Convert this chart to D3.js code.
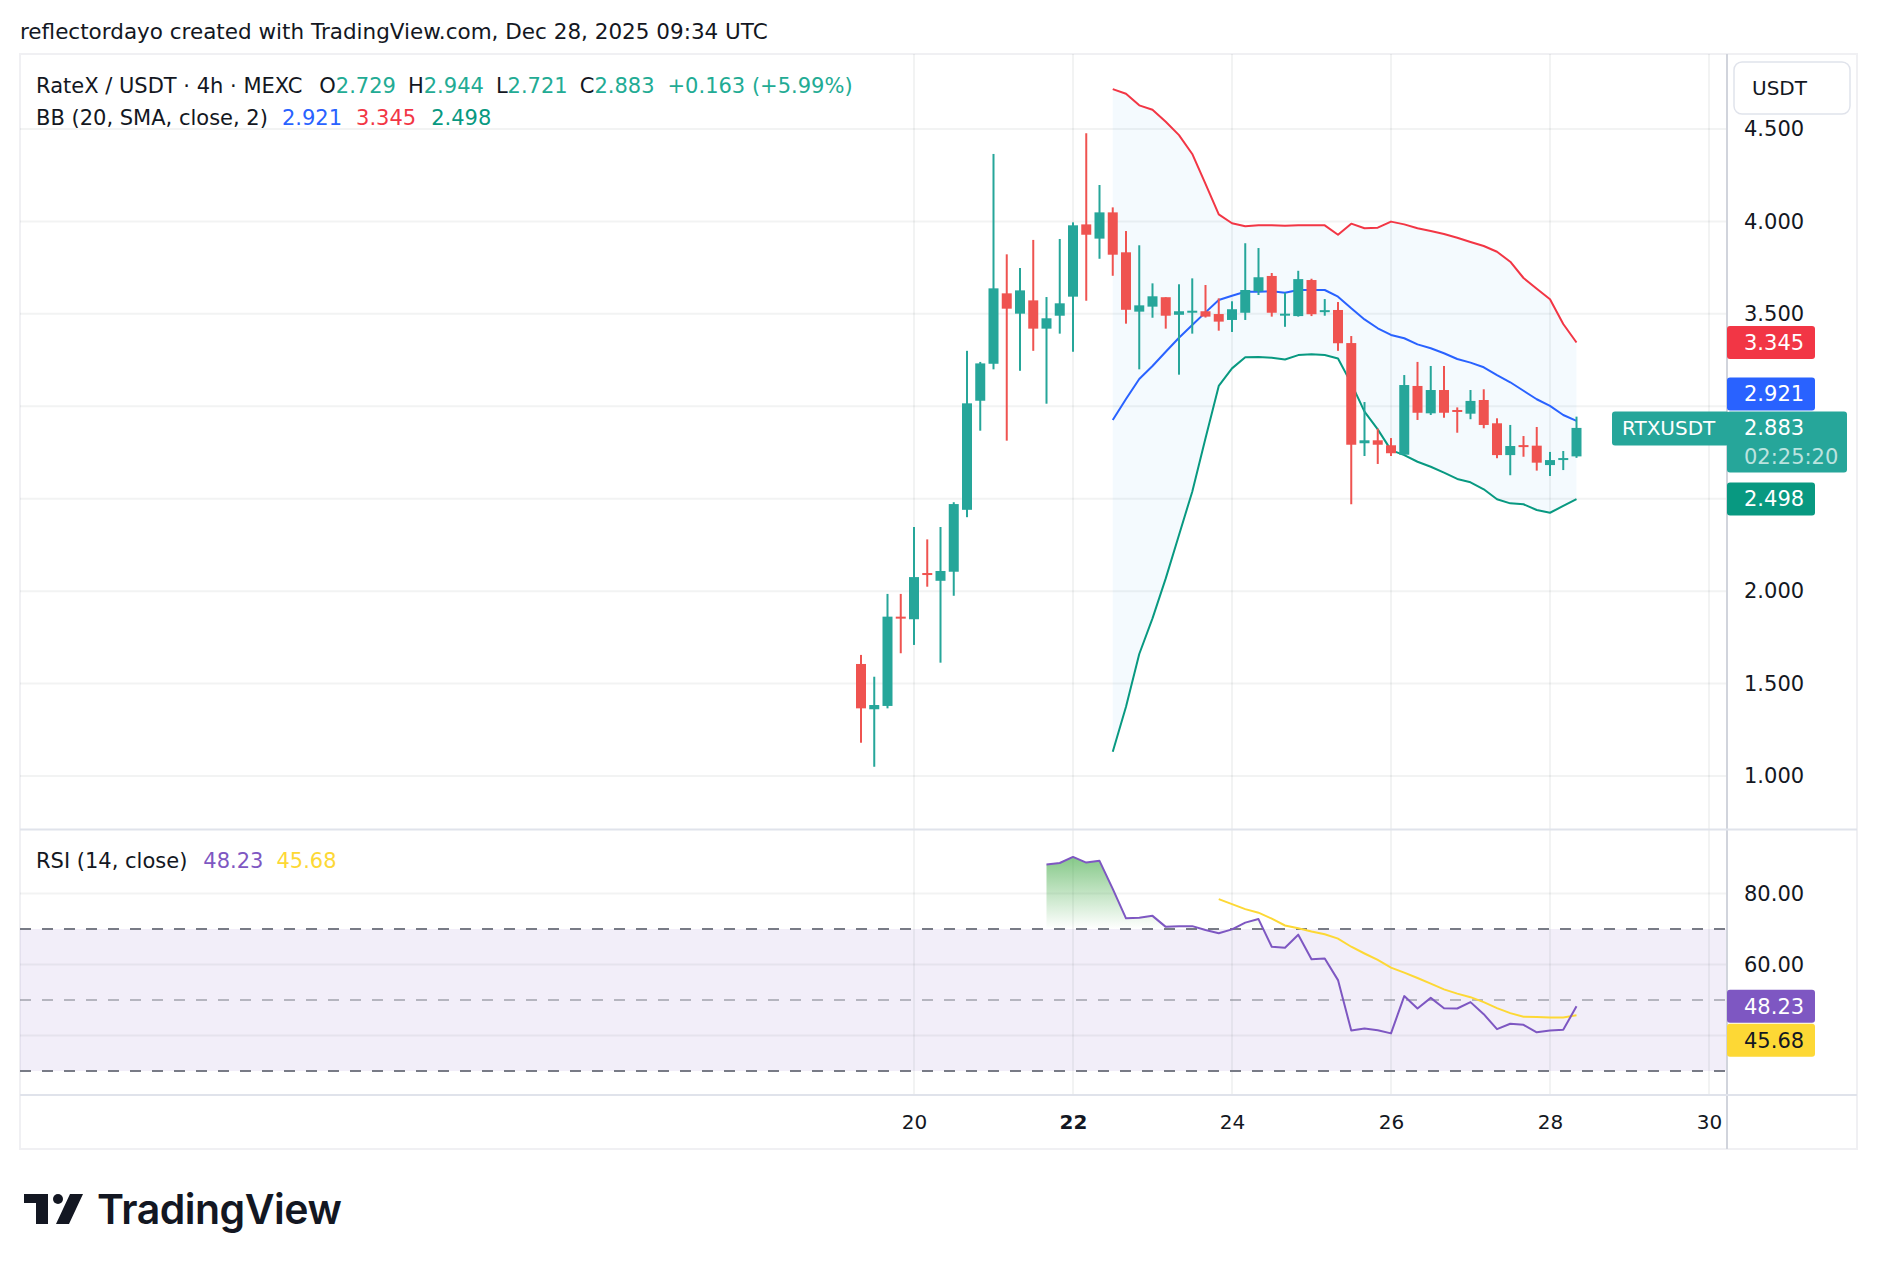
<!DOCTYPE html>
<html>
<head>
<meta charset="utf-8">
<script src="https://cdn.jsdelivr.net/npm/d3@7"></script>
<style>
  body { margin: 0; background: #fff; }
  svg text { font-family: "DejaVu Sans", Roboto, sans-serif; fill: #131722; }
</style>
</head>
<body>
<svg id="chart" width="1878" height="1270"></svg>
<script>
// RTXUSDT 4h candles, first bar Dec 19 08:00 UTC
const startTime = Date.UTC(2025, 11, 19, 8);
const opens  = [1.606, 1.361, 1.379, 1.862, 1.848, 2.098, 2.056, 2.105, 2.440, 3.030,
                3.230, 3.611, 3.501, 3.573, 3.420, 3.490, 3.593, 3.984, 3.907, 4.049,
                3.833, 3.512, 3.539, 3.590, 3.495, 3.512, 3.514, 3.499, 3.467, 3.506,
                3.622, 3.705, 3.496, 3.488, 3.683, 3.514, 3.521, 3.342, 2.800, 2.816,
                2.789, 2.738, 3.110, 2.962, 3.088, 2.980, 2.960, 3.034, 2.908, 2.736,
                2.790, 2.787, 2.682, 2.715, 2.729];
const highs  = [1.655, 1.537, 1.985, 1.985, 2.347, 2.280, 2.347, 2.481, 3.300, 3.240,
                4.365, 3.822, 3.748, 3.900, 3.591, 3.905, 3.995, 4.477, 4.197, 4.076,
                3.948, 3.871, 3.665, 3.590, 3.660, 3.692, 3.656, 3.584, 3.568, 3.882,
                3.856, 3.721, 3.614, 3.733, 3.690, 3.580, 3.564, 3.380, 3.023, 2.879,
                2.828, 3.169, 3.240, 3.218, 3.218, 2.994, 3.088, 3.092, 2.935, 2.899,
                2.839, 2.888, 2.753, 2.758, 2.944];
const lows   = [1.180, 1.050, 1.366, 1.664, 1.709, 2.024, 1.613, 1.975, 2.400, 2.868,
                3.200, 2.814, 3.192, 3.300, 3.014, 3.393, 3.295, 3.571, 3.798, 3.706,
                3.447, 3.200, 3.479, 3.420, 3.171, 3.393, 3.480, 3.409, 3.402, 3.467,
                3.602, 3.485, 3.430, 3.485, 3.488, 3.490, 3.300, 2.470, 2.731, 2.688,
                2.731, 2.738, 2.926, 2.953, 2.938, 2.857, 2.930, 2.881, 2.719, 2.627,
                2.727, 2.652, 2.623, 2.655, 2.721];
const closes = [1.366, 1.384, 1.862, 1.856, 2.076, 2.090, 2.109, 2.471, 3.016, 3.232,
                3.638, 3.528, 3.627, 3.420, 3.476, 3.557, 3.979, 3.928, 4.049, 3.820,
                3.522, 3.546, 3.595, 3.490, 3.514, 3.517, 3.485, 3.458, 3.525, 3.629,
                3.698, 3.506, 3.501, 3.688, 3.498, 3.520, 3.341, 2.792, 2.816, 2.792,
                2.746, 3.115, 2.965, 3.088, 2.965, 2.973, 3.029, 2.899, 2.736, 2.785,
                2.783, 2.695, 2.709, 2.720, 2.883];

// Bollinger Bands (20, SMA, close, 2), first value on bar 19
const bbStart = 19;
const bbBasis = [2.926, 3.039, 3.148, 3.218, 3.295, 3.371, 3.440, 3.508, 3.575, 3.598,
                 3.620, 3.620, 3.622, 3.614, 3.629, 3.629, 3.629, 3.593, 3.530, 3.470,
                 3.422, 3.386, 3.368, 3.335, 3.314, 3.287, 3.256, 3.236, 3.211, 3.169,
                 3.130, 3.084, 3.038, 3.002, 2.953, 2.921];
const bbUpper = [4.716, 4.691, 4.628, 4.604, 4.539, 4.467, 4.365, 4.203, 4.038, 3.990,
                 3.974, 3.979, 3.979, 3.977, 3.980, 3.980, 3.979, 3.928, 3.988, 3.963,
                 3.966, 3.999, 3.984, 3.963, 3.948, 3.932, 3.912, 3.889, 3.867, 3.836,
                 3.782, 3.694, 3.636, 3.579, 3.445, 3.345];
const bbLower = [1.131, 1.375, 1.660, 1.853, 2.069, 2.304, 2.538, 2.827, 3.110, 3.205,
                 3.265, 3.267, 3.263, 3.253, 3.277, 3.281, 3.277, 3.259, 3.124, 2.971,
                 2.875, 2.763, 2.736, 2.700, 2.673, 2.641, 2.607, 2.589, 2.551, 2.497,
                 2.475, 2.470, 2.439, 2.424, 2.461, 2.498];

// RSI (14, close) from bar 14, its SMA from bar 27
const rsiStart = 14;
const rsiValues = [88.2, 88.6, 90.3, 88.7, 89.2, 81.3, 73.0, 73.2, 73.7, 70.6,
                   70.8, 70.8, 69.7, 68.8, 69.9, 71.8, 72.8, 65.0, 64.7, 68.4,
                   61.5, 61.7, 55.6, 41.4, 42.0, 41.5, 40.6, 51.1, 47.6, 50.6,
                   47.7, 47.6, 49.4, 46.0, 41.8, 43.3, 43.0, 40.9, 41.4, 41.6, 48.23];
const rsiMaStart = 27;
const rsiMa = [78.4, 77.0, 75.6, 74.6, 72.9, 71.0, 70.2, 69.3, 68.5, 67.3,
               65.0, 63.1, 61.3, 59.1, 57.7, 56.2, 54.6, 53.0, 51.8, 50.8,
               49.4, 47.7, 46.3, 45.3, 45.2, 45.1, 45.1, 45.68];

const priceTicks = [1, 1.5, 2, 2.5, 3, 3.5, 4, 4.5];
const rsiTicks = [40, 60, 80];
const rsiBands = [30, 50, 70];
const dayTicks = [20, 22, 24, 26, 28, 30];
const countdown = "02:25:20";
const symbol = "RTXUSDT";

const COL = {
  text: "#131722", up: "#26a69a", down: "#ef5350", legendUp: "#22ab94",
  upper: "#f23645", basis: "#2962ff", lower: "#089981",
  rsi: "#7e57c2", rsiMa: "#fdd835", grid: "rgba(42,46,57,0.06)", border: "#e0e3eb"
};

const frame = {left: 20, top: 54, right: 1857, bottom: 1149};
const axisX = 1727;
const mainPane = {top: 54, bottom: 829};
const rsiPane = {top: 830, bottom: 1095};

const svg = d3.select("#chart");
const defs = svg.append("defs");

const x = d3.scaleUtc()
  .domain([new Date(Date.UTC(2025, 11, 20)), new Date(Date.UTC(2025, 11, 30))])
  .range([914, 1709]);
const y = d3.scaleLinear().domain([1, 4.5]).range([776, 129]);
const yR = d3.scaleLinear().domain([30, 70]).range([1071, 929]);

const barTime = i => new Date(startTime + i * 4 * 3600 * 1000);
const candles = opens.map((o, i) => ({t: barTime(i), o: o, h: highs[i], l: lows[i], c: closes[i]}));
const last = candles[candles.length - 1];

// header
svg.append("text")
  .attr("x", 20).attr("y", 31).attr("dy", "0.35em")
  .style("font-size", "21.5px")
  .text("reflectordayo created with TradingView.com, Dec 28, 2025 09:34 UTC");

// frame
svg.append("rect")
  .attr("x", frame.left).attr("y", frame.top)
  .attr("width", frame.right - frame.left).attr("height", frame.bottom - frame.top)
  .attr("fill", "#fff").attr("stroke", "#f0f0f3").attr("stroke-width", 2);

defs.append("clipPath").attr("id", "clipMain").append("rect")
  .attr("x", frame.left).attr("y", mainPane.top)
  .attr("width", axisX - frame.left).attr("height", mainPane.bottom - mainPane.top);
defs.append("clipPath").attr("id", "clipRsi").append("rect")
  .attr("x", frame.left).attr("y", rsiPane.top)
  .attr("width", axisX - frame.left).attr("height", rsiPane.bottom - rsiPane.top);

const main = svg.append("g").attr("clip-path", "url(#clipMain)");
const rsiG = svg.append("g").attr("clip-path", "url(#clipRsi)");

// ---- main pane ----
main.selectAll("line.hgrid").data(priceTicks).join("line")
  .attr("class", "hgrid")
  .attr("x1", frame.left).attr("x2", axisX)
  .attr("y1", d => y(d)).attr("y2", d => y(d))
  .attr("stroke", COL.grid).attr("stroke-width", 2);

const dayDates = dayTicks.map(d => new Date(Date.UTC(2025, 11, d)));
main.selectAll("line.vgrid").data(dayDates).join("line")
  .attr("class", "vgrid")
  .attr("x1", d => x(d)).attr("x2", d => x(d))
  .attr("y1", mainPane.top).attr("y2", mainPane.bottom)
  .attr("stroke", COL.grid).attr("stroke-width", 2);

const bb = bbBasis.map((b, k) => ({t: barTime(bbStart + k), basis: b, upper: bbUpper[k], lower: bbLower[k]}));

main.append("path")
  .datum(bb)
  .attr("fill", "rgba(33,150,243,0.05)")
  .attr("d", d3.area().x(d => x(d.t)).y0(d => y(d.lower)).y1(d => y(d.upper)));

[["upper", COL.upper], ["basis", COL.basis], ["lower", COL.lower]].forEach(function(s) {
  main.append("path")
    .datum(bb)
    .attr("fill", "none")
    .attr("stroke", s[1])
    .attr("stroke-width", 2)
    .attr("stroke-linejoin", "round")
    .attr("d", d3.line().x(d => x(d.t)).y(d => y(d[s[0]])));
});

const cg = main.selectAll("g.candle").data(candles).join("g")
  .attr("class", "candle")
  .attr("fill", d => d.c >= d.o ? COL.up : COL.down);
cg.append("rect")
  .attr("x", d => x(d.t) - 1).attr("width", 2)
  .attr("y", d => y(d.h)).attr("height", d => y(d.l) - y(d.h));
cg.append("rect")
  .attr("x", d => x(d.t) - 5).attr("width", 10)
  .attr("y", d => y(Math.max(d.o, d.c)))
  .attr("height", d => Math.max(2, Math.abs(y(d.o) - y(d.c))));

// ---- RSI pane ----
rsiG.append("rect")
  .attr("x", frame.left).attr("width", axisX - frame.left)
  .attr("y", yR(70)).attr("height", yR(30) - yR(70))
  .attr("fill", "rgba(126,87,194,0.1)");

rsiG.selectAll("line.hgrid").data(rsiTicks).join("line")
  .attr("class", "hgrid")
  .attr("x1", frame.left).attr("x2", axisX)
  .attr("y1", d => yR(d)).attr("y2", d => yR(d))
  .attr("stroke", COL.grid).attr("stroke-width", 2);
rsiG.selectAll("line.vgrid").data(dayDates).join("line")
  .attr("class", "vgrid")
  .attr("x1", d => x(d)).attr("x2", d => x(d))
  .attr("y1", rsiPane.top).attr("y2", rsiPane.bottom)
  .attr("stroke", COL.grid).attr("stroke-width", 2);

rsiG.selectAll("line.band").data(rsiBands).join("line")
  .attr("class", "band")
  .attr("x1", frame.left).attr("x2", axisX)
  .attr("y1", d => yR(d)).attr("y2", d => yR(d))
  .attr("stroke", d => d === 50 ? "rgba(120,123,134,0.5)" : "#787b86")
  .attr("stroke-width", 2)
  .attr("stroke-dasharray", "11 11");

const rsi = rsiValues.map((v, k) => ({t: barTime(rsiStart + k), v: v}));
const rsiMaPts = rsiMa.map((v, k) => ({t: barTime(rsiMaStart + k), v: v}));

// overbought gradient fill
const grad = defs.append("linearGradient")
  .attr("id", "obGrad").attr("gradientUnits", "userSpaceOnUse")
  .attr("x1", 0).attr("x2", 0).attr("y1", yR(100)).attr("y2", yR(70));
grad.append("stop").attr("offset", 0).attr("stop-color", "#4caf50").attr("stop-opacity", 1);
grad.append("stop").attr("offset", 1).attr("stop-color", "#4caf50").attr("stop-opacity", 0);
defs.append("clipPath").attr("id", "clipOb").append("rect")
  .attr("x", frame.left).attr("y", rsiPane.top)
  .attr("width", axisX - frame.left).attr("height", yR(70) - rsiPane.top);
rsiG.append("path")
  .datum(rsi)
  .attr("clip-path", "url(#clipOb)")
  .attr("fill", "url(#obGrad)")
  .attr("d", d3.area().x(d => x(d.t)).y0(yR(70)).y1(d => yR(d.v)));

rsiG.append("path")
  .datum(rsiMaPts)
  .attr("fill", "none").attr("stroke", COL.rsiMa).attr("stroke-width", 2)
  .attr("d", d3.line().x(d => x(d.t)).y(d => yR(d.v)));
rsiG.append("path")
  .datum(rsi)
  .attr("fill", "none").attr("stroke", COL.rsi).attr("stroke-width", 2)
  .attr("stroke-linejoin", "round")
  .attr("d", d3.line().x(d => x(d.t)).y(d => yR(d.v)));

// ---- separators ----
svg.append("line")
  .attr("x1", axisX).attr("x2", axisX).attr("y1", frame.top).attr("y2", frame.bottom)
  .attr("stroke", "#d1d4dc").attr("stroke-width", 2);
svg.append("line")
  .attr("x1", frame.left).attr("x2", frame.right).attr("y1", mainPane.bottom + 0.5).attr("y2", mainPane.bottom + 0.5)
  .attr("stroke", COL.border).attr("stroke-width", 2);
svg.append("line")
  .attr("x1", frame.left).attr("x2", frame.right).attr("y1", rsiPane.bottom).attr("y2", rsiPane.bottom)
  .attr("stroke", COL.border).attr("stroke-width", 2);

// ---- legends ----
function legend(yPos, parts) {
  const t = svg.append("text").attr("x", 36).attr("y", yPos).attr("dy", "0.35em").style("font-size", "21px");
  parts.forEach(function(p) {
    t.append("tspan").attr("dx", p[2] || 0).style("fill", p[1]).text(p[0]);
  });
}
const prevClose = closes[closes.length - 2];
const chg = last.c - prevClose;
const f3 = d3.format(".3f");
const f2 = d3.format(".2f");
legend(86, [
  ["RateX / USDT · 4h · MEXC", COL.text],
  ["O", COL.text, 17], [f3(last.o), COL.legendUp],
  ["H", COL.text, 12], [f3(last.h), COL.legendUp],
  ["L", COL.text, 12], [f3(last.l), COL.legendUp],
  ["C", COL.text, 12], [f3(last.c), COL.legendUp],
  [(chg >= 0 ? "+" : "") + f3(chg) + " (" + (chg >= 0 ? "+" : "") + f2(chg / prevClose * 100) + "%)", COL.legendUp, 13]
]);
legend(118, [
  ["BB (20, SMA, close, 2)", COL.text],
  [f3(bbBasis[bbBasis.length - 1]), COL.basis, 14],
  [f3(bbUpper[bbUpper.length - 1]), COL.upper, 14],
  [f3(bbLower[bbLower.length - 1]), COL.lower, 15]
]);
legend(861, [
  ["RSI (14, close)", COL.text],
  [f2(rsiValues[rsiValues.length - 1]), COL.rsi, 16],
  [f2(rsiMa[rsiMa.length - 1]), COL.rsiMa, 13]
]);

// ---- value labels on the price scales ----
function placeLabels(labels) {
  const placed = [];
  labels.forEach(function(l) {
    l.top = l.cy - 16.5;
    l.bottom = l.top + l.h;
    placed.forEach(function(p) {
      if (l.top < p.bottom + 1 && l.bottom > p.top - 1) {
        if (l.cy < p.cy) { l.bottom = p.top - 1; l.top = l.bottom - l.h; }
        else { l.top = p.bottom + 1; l.bottom = l.top + l.h; }
      }
    });
    placed.push(l);
  });
  return placed;
}

const mainLabels = placeLabels([
  {cy: y(last.c), h: 61, w: 120, color: COL.up, text: f3(last.c), sub: countdown},
  {cy: y(bbUpper[bbUpper.length - 1]), h: 33, w: 88, color: COL.upper, text: f3(bbUpper[bbUpper.length - 1])},
  {cy: y(bbBasis[bbBasis.length - 1]), h: 33, w: 88, color: COL.basis, text: f3(bbBasis[bbBasis.length - 1])},
  {cy: y(bbLower[bbLower.length - 1]), h: 33, w: 88, color: COL.lower, text: f3(bbLower[bbLower.length - 1])}
]);
const rsiLabels = placeLabels([
  {cy: yR(rsiValues[rsiValues.length - 1]), h: 33, w: 88, color: COL.rsi, text: f2(rsiValues[rsiValues.length - 1])},
  {cy: yR(rsiMa[rsiMa.length - 1]), h: 33, w: 88, color: COL.rsiMa, text: f2(rsiMa[rsiMa.length - 1]), dark: true}
]);

function hidden(yy, labels) {
  return labels.some(l => yy + 11 > l.top && yy - 11 < l.bottom);
}

svg.selectAll("text.ptick").data(priceTicks.filter(t => !hidden(y(t), mainLabels))).join("text")
  .attr("class", "ptick")
  .attr("x", 1744).attr("y", d => y(d)).attr("dy", "0.35em")
  .style("font-size", "21px")
  .text(d => f3(d));
svg.selectAll("text.rtick").data(rsiTicks.filter(t => !hidden(yR(t), rsiLabels))).join("text")
  .attr("class", "rtick")
  .attr("x", 1744).attr("y", d => yR(d)).attr("dy", "0.35em")
  .style("font-size", "21px")
  .text(d => f2(d));

mainLabels.concat(rsiLabels).forEach(function(l) {
  svg.append("rect")
    .attr("x", axisX).attr("y", l.top).attr("width", l.w).attr("height", l.h)
    .attr("rx", 3).attr("fill", l.color);
  svg.append("text")
    .attr("x", 1744).attr("y", l.top + 16.5).attr("dy", "0.35em")
    .style("font-size", "21px").style("fill", l.dark ? COL.text : "#fff")
    .text(l.text);
  if (l.sub) {
    svg.append("text")
      .attr("x", 1744).attr("y", l.top + 45.5).attr("dy", "0.35em")
      .style("font-size", "21px").style("fill", "rgba(255,255,255,0.7)")
      .text(l.sub);
  }
});

// symbol tag next to the last price
const lastTop = mainLabels[0].top;
svg.append("rect")
  .attr("x", 1612).attr("y", lastTop).attr("width", axisX - 1612 + 2).attr("height", 34)
  .attr("rx", 3).attr("fill", COL.up);
svg.append("text")
  .attr("x", 1622).attr("y", lastTop + 17).attr("dy", "0.35em")
  .style("font-size", "20px").style("fill", "#fff")
  .text(symbol);

// currency button
svg.append("rect")
  .attr("x", 1734).attr("y", 62).attr("width", 116).attr("height", 52)
  .attr("rx", 8).attr("fill", "#fff").attr("stroke", COL.border).attr("stroke-width", 1.5);
svg.append("text")
  .attr("x", 1752).attr("y", 88).attr("dy", "0.35em")
  .style("font-size", "20px")
  .text("USDT");

// ---- time axis ----
const xAxis = d3.axisBottom(x)
  .tickValues(dayDates)
  .tickFormat(d3.utcFormat("%-d"))
  .tickSize(0);
const xa = svg.append("g")
  .attr("transform", "translate(0," + 1112 + ")")
  .call(xAxis);
xa.select(".domain").remove();
xa.selectAll("text")
  .style("font-size", "20px")
  .style("font-family", "'DejaVu Sans', sans-serif")
  .style("fill", COL.text)
  .style("font-weight", d => d.getUTCDate() === 22 ? 700 : 400);

// ---- logo ----
const logo = svg.append("g").attr("fill", "#131722");
logo.append("path").attr("d", "M24,1194 H48 V1224 H36 V1203 H24 Z");
logo.append("circle").attr("cx", 58).attr("cy", 1199).attr("r", 5);
logo.append("path").attr("d", "M70,1194 H83 L69,1224 H56 Z");
svg.append("text")
  .attr("x", 97).attr("y", 1224)
  .style("font-family", "Inter, sans-serif")
  .style("font-size", "41px").style("font-weight", 600)
  .style("letter-spacing", "-0.5px")
  .text("TradingView");
</script>
</body>
</html>
